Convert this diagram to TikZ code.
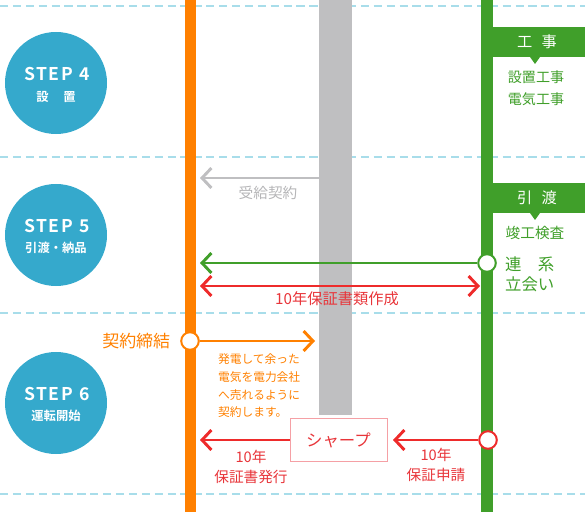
\documentclass[tikz,border=0pt]{standalone}
\usepackage{fontspec}
\setmainfont{Noto Sans CJK JP}[BoldFont={Noto Sans CJK JP Bold}]
\usetikzlibrary{arrows.meta, positioning}
\definecolor{stepblue}{HTML}{35A9CC}
\definecolor{lineorange}{HTML}{FF8000}
\definecolor{linegreen}{HTML}{409F2A}
\definecolor{linegray}{HTML}{BFBFC1}
\definecolor{textgray}{HTML}{B5B5B7}
\definecolor{dashblue}{HTML}{A8DDEA}
\definecolor{arrowred}{HTML}{EE2B2B}
\definecolor{textred}{HTML}{E8353A}
\definecolor{boxpink}{HTML}{F5A0A5}

\begin{document}
\begin{tikzpicture}[x=0.03cm, y=-0.03cm,
    stepcircle/.style={circle, fill=stepblue, minimum size=3.06cm, inner sep=0pt},
    steptitle/.style={text=white, font=\bfseries\fontsize{15}{16}\selectfont\addfontfeatures{LetterSpace=8}},
    stepsub/.style={text=white, font=\bfseries\fontsize{10.5}{12}\selectfont},
    flow/.style={line width=2.5pt, -{Straight Barb[length=8pt, width=17pt]}},
    junction/.style={circle, draw, fill=white, line width=1.7pt, minimum size=15pt, inner sep=0pt},
    bannertext/.style={text=white, font=\fontsize{13}{14}\selectfont},
    lbl/.style={font=\fontsize{12.5}{17}\selectfont, align=center}]
  \useasboundingbox (0,0) rectangle (585,512);
  % Row separators
  \foreach \y in {6,157,313,494}
    \draw[dashblue, line width=1.6pt, dash pattern=on 7pt off 4pt] (0,\y) -- (585,\y);
  % Lanes
  \fill[lineorange] (185,0) rectangle (196,512);
  \fill[linegray] (319,0) rectangle (352,415);
  \fill[linegreen] (481,0) rectangle (493,512);
  % Steps
  \node[stepcircle] (step4) at (56,83) {};
  \node[steptitle] (step4t) at (57,74) {STEP\hspace{0.35em}4};
  \node[stepsub] (step4s) at (56,97) {設\hspace{1.2em}置};
  \node[stepcircle] (step5) at (56,235) {};
  \node[steptitle] (step5t) at (57,226) {STEP\hspace{0.35em}5};
  \node[stepsub] (step5s) at (56,248) {引渡・納品};
  \node[stepcircle] (step6) at (56,403) {};
  \node[steptitle] (step6t) at (57,394) {STEP\hspace{0.35em}6};
  \node[stepsub] (step6s) at (56,416) {運転開始};
  % Green banners
  \fill[linegreen] (493,27) rectangle (585,57);
  \fill[linegreen] (530,57) -- (540,57) -- (535,64) -- cycle;
  \node[bannertext] (koji) at (537,42) {工\hspace{0.6em}事};
  \node[lbl, text=linegreen, font=\fontsize{12}{19}\selectfont] (kojilist) at (536,88) {設置工事\\電気工事};
  \fill[linegreen] (493,183) rectangle (585,213);
  \fill[linegreen] (530,213) -- (540,213) -- (535,220) -- cycle;
  \node[bannertext] (hikiwatashi) at (537,198) {引\hspace{0.6em}渡};
  \node[lbl, text=linegreen] (kensa) at (535,233) {竣工検査};
  \node[lbl, text=linegreen, font=\fontsize{14}{17}\selectfont, align=left, anchor=west] (tachiai) at (501,274) {連　系\\立会い};
  % Contract
  \coordinate (grayfrom) at (319,178);
  \coordinate (grayto) at (200,178);
  \draw[flow, linegray] (grayfrom) -- (grayto);
  \node[lbl, text=textgray] (jukyu) at (268,193) {受給契約};
  \node[junction, draw=linegreen] (renkei) at (487,263) {};
  \coordinate (greento) at (200,263);
  \draw[flow, linegreen] (renkei) -- (greento);
  \coordinate (redleft) at (200,286);
  \coordinate (redright) at (480,286);
  \draw[line width=2.5pt, arrowred, {Straight Barb[length=8pt, width=17pt]}-{Straight Barb[length=8pt, width=17pt]}] (redleft) -- (redright);
  \node[lbl, text=textred, font=\fontsize{13}{15}\selectfont] (sakusei) at (337,299) {10年保証書類作成};
  % Sale contract
  \node[junction, draw=lineorange] (keiyaku) at (190,341) {};
  \node[lbl, text=lineorange, font=\fontsize{14.5}{16}\selectfont, left=5pt of keiyaku] (teiketsu) {契約締結};
  \coordinate (orangeto) at (315,341);
  \draw[flow, lineorange] (keiyaku) -- (orangeto);
  \node[lbl, text=lineorange, font=\fontsize{10}{15}\selectfont, align=left, anchor=north west] (baiden) at (214,350) {発電して余った\\電気を電力会社\\へ売れるように\\契約します。};
  % Warranty
  \node[draw=boxpink, line width=0.8pt, fill=white, minimum width=2.91cm, minimum height=1.29cm, text=textred, font=\fontsize{14}{16}\selectfont] (sharp) at (338.5,440) {シャープ};
  \coordinate (hakkoto) at (200,440);
  \draw[flow, arrowred] (sharp) -- (hakkoto);
  \node[lbl, text=textred] (hakko) at (251,467) {10年\\保証書発行};
  \node[junction, draw=arrowred] (shinsei) at (488,440) {};
  \coordinate (shinseito) at (393,440);
  \draw[flow, arrowred] (shinsei) -- (shinseito);
  \node[lbl, text=textred] (shinseilabel) at (436,465) {10年\\保証申請};
\end{tikzpicture}
\end{document}
